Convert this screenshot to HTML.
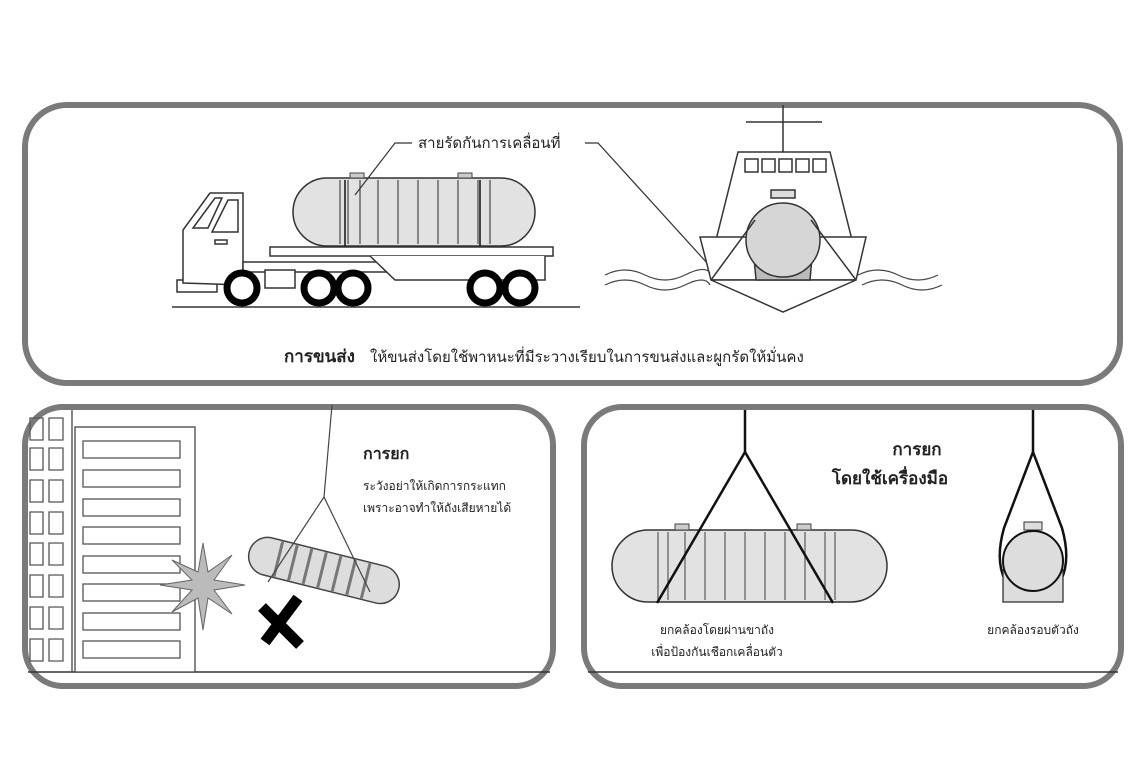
<!DOCTYPE html>
<html><head><meta charset="utf-8"><style>
html,body{margin:0;padding:0;background:#fff;width:1140px;height:760px;overflow:hidden}
svg{display:block}
text{font-family:"Liberation Sans","Noto Sans CJK SC",sans-serif;fill:#222}
</style></head><body>
<svg width="1140" height="760" viewBox="0 0 1140 760" xmlns="http://www.w3.org/2000/svg">
<g fill="none" stroke="#7a7a7a" stroke-width="6">
<rect x="25" y="105" width="1095" height="278" rx="42"/>
<rect x="25" y="407" width="528" height="279" rx="38"/>
<rect x="584" y="407" width="537" height="279" rx="38"/>
</g>
<g stroke="#333" stroke-width="1.5" fill="none">
<line x1="28" y1="672" x2="550" y2="672"/>
<line x1="588" y1="672" x2="1118" y2="672"/>
</g>
<!-- TRUCK -->
<g stroke="#333" stroke-width="1.5" fill="#fff">
<line x1="172" y1="307" x2="580" y2="307"/>
<rect x="177" y="280" width="40" height="12"/>
<path d="M183 283 V230 L210 193 H243 V285 Z"/>
<path d="M193 228 L215 198 H222 L208 228 Z M212 232 L228 200 H238 V232 Z"/>
<rect x="215" y="240" width="12" height="4"/>
<rect x="243" y="262" width="160" height="10"/>
<rect x="270" y="247" width="283" height="9"/>
<path d="M370 256 L395 280 H545 V256"/>
<rect x="265" y="270" width="30" height="18"/>
<rect x="293" y="178" width="242" height="68" rx="34" fill="#e2e2e2"/>
</g>
<g stroke="#555" stroke-width="1.3">
<line x1="340" y1="180" x2="340" y2="244"/><line x1="348" y1="180" x2="348" y2="244"/>
<line x1="360" y1="180" x2="360" y2="244"/><line x1="378" y1="180" x2="378" y2="244"/>
<line x1="398" y1="180" x2="398" y2="244"/><line x1="418" y1="180" x2="418" y2="244"/>
<line x1="438" y1="180" x2="438" y2="244"/><line x1="458" y1="180" x2="458" y2="244"/>
<line x1="478" y1="180" x2="478" y2="244"/><line x1="490" y1="180" x2="490" y2="244"/>
</g>
<g stroke="#111" stroke-width="1.5"><line x1="345" y1="180" x2="345" y2="246"/><line x1="480" y1="180" x2="480" y2="246"/></g>
<rect x="350" y="173" width="14" height="5" fill="#ccc" stroke="#444"/>
<rect x="458" y="173" width="14" height="5" fill="#ccc" stroke="#444"/>
<g fill="#fff" stroke="#000" stroke-width="7">
<circle cx="242" cy="288" r="15"/><circle cx="319" cy="288" r="15"/><circle cx="353" cy="288" r="15"/>
<circle cx="485" cy="288" r="15"/><circle cx="520" cy="288" r="15"/>
</g>
<g stroke="#333" stroke-width="1.2" fill="none">
<polyline points="355,195 395,143 412,143"/>
<polyline points="585,143 598,143 718,275"/>
</g>
<text x="418" y="148" font-size="15">สายรัดกันการเคลื่อนที่</text>
<!-- BOAT -->
<g stroke="#333" stroke-width="1.5" fill="#fff">
<line x1="783" y1="105" x2="783" y2="152"/>
<line x1="746" y1="122" x2="822" y2="122"/>
<path d="M738 152 H830 L852 240 H716 Z"/>
<rect x="745" y="159" width="13" height="13"/><rect x="762" y="159" width="13" height="13"/>
<rect x="779" y="159" width="13" height="13"/><rect x="796" y="159" width="13" height="13"/>
<rect x="813" y="159" width="13" height="13"/>
<path d="M700 237 H866 L856 280 H711 Z"/>
<path d="M711 280 H856 L783 312 Z"/>
<rect x="771" y="190" width="24" height="8" fill="#ddd"/>
<path d="M752 235 L756 280 H810 L814 235" fill="#bbb"/>
<circle cx="783" cy="240" r="37" fill="#d6d6d6"/>
<polyline points="711,280 755,220" fill="none"/><polyline points="856,280 811,220" fill="none"/>
</g>
<g stroke="#444" stroke-width="1.2" fill="none">
<path d="M605 275 q20 -10 40 0 t40 0 t25 -2"/><path d="M605 285 q20 -10 40 0 t40 0 t25 0"/>
<path d="M858 275 q20 -10 40 0 t40 0"/><path d="M862 285 q20 -10 40 0 t40 0"/>
</g>
<text x="284" y="362" font-size="17" font-weight="bold">การขนส่ง</text>
<text x="370" y="362" font-size="15">ให้ขนส่งโดยใช้พาหนะที่มีระวางเรียบในการขนส่งและผูกรัดให้มั่นคง</text>
<!-- BOTTOM LEFT -->
<g stroke="#444" stroke-width="1.3" fill="#fff">
<rect x="75" y="427" width="120" height="245"/>
<line x1="72" y1="410" x2="72" y2="672"/>
</g>
<g stroke="#555" stroke-width="1.3" fill="none">
<rect x="83" y="441" width="97" height="17"/><rect x="83" y="470" width="97" height="17"/>
<rect x="83" y="499" width="97" height="17"/><rect x="83" y="527" width="97" height="17"/>
<rect x="83" y="556" width="97" height="17"/><rect x="83" y="584" width="97" height="17"/>
<rect x="83" y="613" width="97" height="17"/><rect x="83" y="641" width="97" height="17"/>
<path d="M30 418h13v22h-13z M49 418h14v22h-14z M30 448h13v22h-13z M49 448h14v22h-14z M30 480h13v22h-13z M49 480h14v22h-14z M30 512h13v22h-13z M49 512h14v22h-14z M30 543h13v22h-13z M49 543h14v22h-14z M30 575h13v22h-13z M49 575h14v22h-14z M30 607h13v22h-13z M49 607h14v22h-14z M30 639h13v22h-13z M49 639h14v22h-14z"/>
</g>
<g transform="rotate(14 322 570)">
<rect x="247" y="551" width="154" height="38" rx="19" fill="#ddd" stroke="#444" stroke-width="1.5"/>
<g stroke="#777" stroke-width="3"><line x1="277" y1="552" x2="277" y2="588"/><line x1="292" y1="552" x2="292" y2="588"/><line x1="307" y1="552" x2="307" y2="588"/><line x1="322" y1="552" x2="322" y2="588"/><line x1="337" y1="552" x2="337" y2="588"/><line x1="352" y1="552" x2="352" y2="588"/><line x1="367" y1="552" x2="367" y2="588"/></g>
</g>
<g stroke="#444" stroke-width="1.2" fill="none">
<polyline points="332,405 324,497 268,582"/><line x1="324" y1="497" x2="370" y2="592"/>
</g>
<polygon points="203,543 208,572 232,555 214,580 245,585 214,590 232,614 208,598 203,630 198,598 172,612 192,590 160,585 192,580 172,560 198,572" fill="#bbb" stroke="#666" stroke-width="1"/>
<g stroke="#000" stroke-width="11" stroke-linecap="butt"><line x1="262" y1="607" x2="300" y2="645"/><line x1="298" y1="598" x2="265" y2="642"/></g>
<text x="363" y="459" font-size="16" font-weight="bold">การยก</text>
<text x="363" y="490" font-size="12">ระวังอย่าให้เกิดการกระแทก</text>
<text x="363" y="512" font-size="12">เพราะอาจทำให้ถังเสียหายได้</text>
<!-- BOTTOM RIGHT -->
<rect x="612" y="530" width="275" height="72" rx="36" fill="#e2e2e2" stroke="#333" stroke-width="1.5"/>
<g stroke="#666" stroke-width="1.3">
<line x1="658" y1="532" x2="658" y2="600"/><line x1="668" y1="532" x2="668" y2="600"/><line x1="685" y1="532" x2="685" y2="600"/><line x1="705" y1="532" x2="705" y2="600"/><line x1="725" y1="532" x2="725" y2="600"/><line x1="745" y1="532" x2="745" y2="600"/><line x1="765" y1="532" x2="765" y2="600"/><line x1="785" y1="532" x2="785" y2="600"/><line x1="805" y1="532" x2="805" y2="600"/><line x1="825" y1="532" x2="825" y2="600"/><line x1="835" y1="532" x2="835" y2="600"/>
</g>
<rect x="675" y="524" width="14" height="6" fill="#ccc" stroke="#444"/>
<rect x="797" y="524" width="14" height="6" fill="#ccc" stroke="#444"/>
<g stroke="#111" stroke-width="2.5" fill="none">
<line x1="745" y1="410" x2="745" y2="452"/>
<polyline points="657,603 745,452 833,603"/>
<line x1="1033" y1="410" x2="1033" y2="452"/>
<path d="M1033 452 L1004 528 Q995 560 1005 580 Q1033 600 1061 580 Q1071 560 1062 528 Z"/>
</g>
<rect x="1003" y="570" width="60" height="32" fill="#ddd" stroke="#333" stroke-width="1.3"/>
<rect x="1024" y="522" width="18" height="8" fill="#ddd" stroke="#333"/>
<circle cx="1033" cy="561" r="30" fill="#ddd" stroke="#111" stroke-width="2"/>
<text x="917" y="455" font-size="17" font-weight="bold" text-anchor="middle">การยก</text>
<text x="890" y="484" font-size="17" font-weight="bold" text-anchor="middle">โดยใช้เครื่องมือ</text>
<text x="717" y="634" font-size="12" text-anchor="middle">ยกคล้องโดยผ่านขาถัง</text>
<text x="717" y="656" font-size="12" text-anchor="middle">เพื่อป้องกันเชือกเคลื่อนตัว</text>
<text x="1033" y="634" font-size="12" text-anchor="middle">ยกคล้องรอบตัวถัง</text>
</svg>
</body></html>
